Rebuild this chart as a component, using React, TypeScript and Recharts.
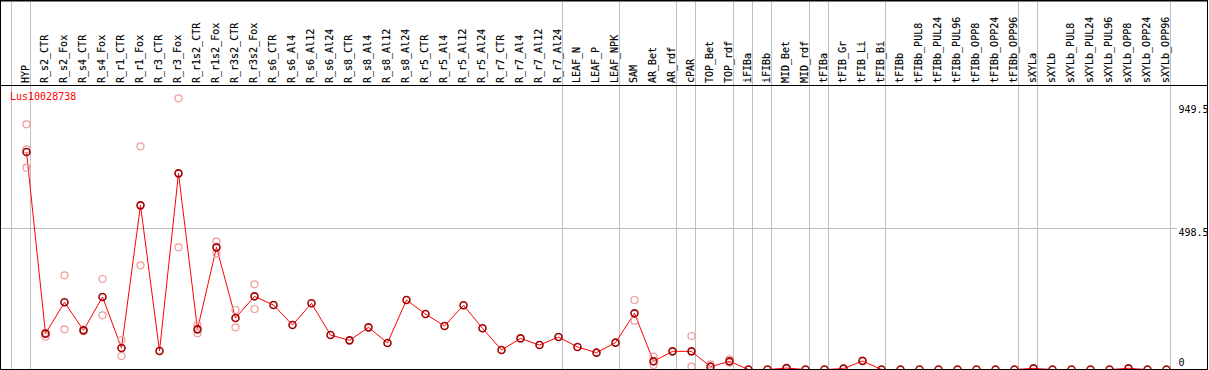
import React from 'react';
import { ComposedChart, Line, Scatter, XAxis, YAxis, ReferenceLine } from 'recharts';

const GENE_ID = 'Lus10028738';

const CATEGORIES = [
  'HYP', 'R_s2_CTR', 'R_s2_Fox', 'R_s4_CTR', 'R_s4_Fox', 'R_r1_CTR', 'R_r1_Fox', 'R_r3_CTR', 'R_r3_Fox',
  'R_r1s2_CTR', 'R_r1s2_Fox', 'R_r3s2_CTR', 'R_r3s2_Fox', 'R_s6_CTR', 'R_s6_Al4', 'R_s6_Al12', 'R_s6_Al24',
  'R_s8_CTR', 'R_s8_Al4', 'R_s8_Al12', 'R_s8_Al24', 'R_r5_CTR', 'R_r5_Al4', 'R_r5_Al12', 'R_r5_Al24',
  'R_r7_CTR', 'R_r7_Al4', 'R_r7_Al12', 'R_r7_Al24', 'LEAF_N', 'LEAF_P', 'LEAF_NPK', 'SAM', 'AR_Bet', 'AR_rdf',
  'cPAR', 'TOP_Bet', 'TOP_rdf', 'iFIBa', 'iFIBb', 'MID_Bet', 'MID_rdf', 'tFIBa', 'tFIB_Gr', 'tFIB_Li', 'tFIB_Bi',
  'tFIBb', 'tFIBb_PUL8', 'tFIBb_PUL24', 'tFIBb_PUL96', 'tFIBb_OPP8', 'tFIBb_OPP24', 'tFIBb_OPP96', 'sXYLa',
  'sXYLb', 'sXYLb_PUL8', 'sXYLb_PUL24', 'sXYLb_PUL96', 'sXYLb_OPP8', 'sXYLb_OPP24', 'sXYLb_OPP96',
];

const MEANS = [
  769, 126.7, 237.5, 138.5, 256.3, 76, 580.4, 65.4, 693.5,
  142, 431.9, 182, 258.7, 228, 157.3, 234, 122,
  103, 149, 93.7, 245.7, 196, 153.8, 227, 145.6,
  69, 110, 86.6, 115, 79.6, 59.5, 94.9, 198.6, 28.9, 64.2,
  64.2, 10, 28.9, 0, 0, 5, 0, 0, 3, 30, 0,
  0, 0, 0, 0, 0, 0, 0, 4,
  0, 0, 0, 0, 4, 0, 0,
];

const REPLICATE_A: (number | null)[] = [
  866.8, 130.2, 333, 141, 320, 104.3, 789, null, 958.7,
  157.3, 452, 210.4, 301, null, null, null, null,
  null, null, null, null, null, null, null, null,
  null, null, null, null, null, null, null, 245.7, 45.4, null,
  118.4, 18, 36, null, null, null, null, null, null, 32, null,
  null, null, null, null, null, null, null, null,
  null, null, null, null, null, null, null,
];

const REPLICATE_B: (number | null)[] = [
  713.6, 116, 142, 135, 191.5, 47.7, 368.3, null, 431.9,
  127.9, 410.7, 149, 213.9, null, null, null, null,
  null, null, null, null, null, null, null, null,
  null, null, null, null, null, null, null, 172.6, 15.9, null,
  10, null, 24, null, null, null, null, null, null, null, null,
  null, null, null, null, null, null, null, null,
  null, null, null, null, null, null, null,
];

const REPLICATE_C: (number | null)[] = [
  778.4, null, null, null, null, null, null, null, null,
  null, null, null, null, null, null, null, null,
  null, null, null, null, null, null, null, null,
  null, null, null, null, null, null, null, null, null, null,
  null, null, null, null, null, null, null, null, null, null, null,
  null, null, null, null, null, null, null, null,
  null, null, null, null, null, null, null,
];

const Y_TICKS = [0, 498.5, 949.5];
const H_GRID = [498.5];
const GROUP_BREAKS = [-1, 0, 28, 31, 34, 35, 37, 38, 39, 41, 42, 45, 52, 53, 60];

// layout: plot area spans x 0..1208, y 1..370 (1px taken by each axis)
const W = 1209;
const H = 370;
const PLOT_TOP = 1;
const PLOT_RIGHT = 1208;
const COL_W = 19;
const FIRST_X = 26.5;
const ZERO_Y = 369.5;
const PX_PER_UNIT = 141 / 498.5;
const X_DOMAIN: [number, number] = [-FIRST_X / COL_W, (PLOT_RIGHT - FIRST_X) / COL_W];
const Y_DOMAIN: [number, number] = [(ZERO_Y - H) / PX_PER_UNIT, (ZERO_Y - PLOT_TOP) / PX_PER_UNIT];
const BREAK_OFFSET = 4 / COL_W;
const MONO = '"DejaVu Sans Mono", monospace';
const GRID = '#c0c0c0';

const rows = CATEGORIES.map((name, idx) => ({ idx, name, mean: MEANS[idx] }));
const repRows: { idx: number; v: number }[] = [];
[REPLICATE_A, REPLICATE_B, REPLICATE_C].forEach((arr) => {
  arr.forEach((v, idx) => {
    if (v !== null) repRows.push({ idx, v });
  });
});

const XTick = (props: any) => {
  const { x, payload } = props;
  const ax = x + 2;
  const ay = 83;
  return (
    <text
      x={ax}
      y={ay}
      transform={`rotate(-90 ${ax} ${ay})`}
      fontFamily={MONO}
      fontSize={10}
      fill="#000"
      stroke="#000"
      strokeWidth={0.15}
      textAnchor="start"
    >
      {CATEGORIES[payload.value]}
    </text>
  );
};

const YTick = (props: any) => {
  const { y, payload } = props;
  const v = payload.value;
  const dy = v === 0 ? -3.5 : v > 700 ? 12 : 7;
  return (
    <text x={1178.5} y={y + dy} fontFamily={MONO} fontSize={10} fill="#000" textAnchor="start">
      {String(v)}
    </text>
  );
};

const MeanDot = (props: any) => {
  const { cx, cy, index } = props;
  return <circle key={`m${index}`} cx={cx} cy={cy} r={3.5} fill="none" stroke="#a00000" strokeWidth={1.6} />;
};

const RepDot = (props: any) => {
  const { cx, cy } = props;
  return <circle cx={cx} cy={cy} r={3.5} fill="none" stroke="#f09a9a" strokeWidth={1.2} />;
};

export default function App() {
  const gridEndX = (1177 - FIRST_X) / COL_W;
  return (
    <div style={{ position: 'absolute', left: 0, top: 0, width: W, height: H, background: '#fff' }}>
      <ComposedChart width={W} height={H} data={rows} margin={{ top: 0, right: 0, bottom: 0, left: 0 }}>
        <XAxis
          xAxisId={0}
          dataKey="idx"
          type="number"
          orientation="top"
          height={PLOT_TOP}
          domain={X_DOMAIN}
          allowDataOverflow
          ticks={CATEGORIES.map((_, i) => i)}
          interval={0}
          tick={XTick}
          axisLine={false}
          tickLine={false}
        />
        <YAxis
          yAxisId={0}
          type="number"
          orientation="right"
          width={W - PLOT_RIGHT}
          domain={Y_DOMAIN}
          allowDataOverflow
          ticks={Y_TICKS}
          interval={0}
          tick={YTick}
          axisLine={false}
          tickLine={false}
        />
        {GROUP_BREAKS.map((b) => (
          <ReferenceLine key={`v${b}`} x={b + BREAK_OFFSET} stroke={GRID} strokeWidth={1} />
        ))}
        {H_GRID.map((g) => (
          <ReferenceLine
            key={`h${g}`}
            segment={[{ x: X_DOMAIN[0], y: g }, { x: gridEndX, y: g }]}
            stroke={GRID}
            strokeWidth={1}
          />
        ))}
        <Scatter data={repRows} dataKey="v" shape={RepDot} isAnimationActive={false} />
        <Line
          dataKey="mean"
          type="linear"
          stroke="#ff0000"
          strokeWidth={1}
          dot={MeanDot}
          activeDot={false}
          isAnimationActive={false}
        />
      </ComposedChart>
      <svg width={W} height={H} style={{ position: 'absolute', left: 0, top: 0, pointerEvents: 'none' }}>
        <rect x={0.5} y={0.5} width={1207} height={369} fill="none" stroke="#000" strokeWidth={1} />
        <line x1={0} y1={1} x2={1208} y2={1} stroke="#000" strokeWidth={1} />
        <line x1={0} y1={85.5} x2={1208} y2={85.5} stroke="#000" strokeWidth={1} />
        <text x={10} y={100} fontFamily={MONO} fontSize={10} fill="#ff0000">
          {GENE_ID}
        </text>
      </svg>
    </div>
  );
}
